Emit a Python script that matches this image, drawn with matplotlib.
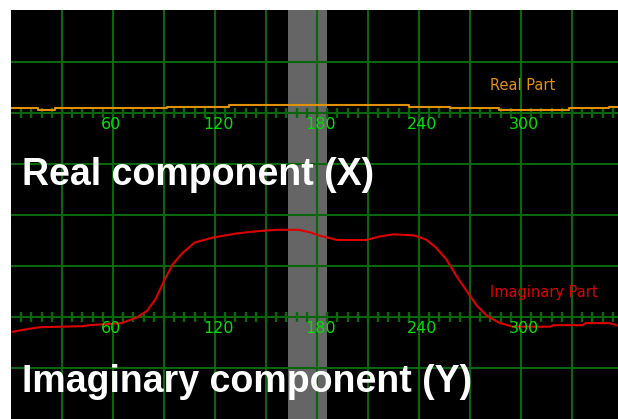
import matplotlib
matplotlib.use("Agg")
import matplotlib.pyplot as plt
import numpy as np

# phase angle (degrees) on the horizontal axis
real_x = [0, 16, 26, 92, 128, 234, 258, 287, 328, 352, 357]
real_y = [0.09, 0.065, 0.098, 0.124, 0.157, 0.124, 0.098, 0.065, 0.098, 0.124, 0.124]

imag_x = [1, 9, 17, 42, 46, 65, 74, 80, 85, 90, 95, 101, 108, 119, 133, 144, 156,
          169, 176, 182, 192, 209, 217, 225, 237, 244, 250, 256, 262, 268, 274,
          280, 287, 295, 317, 319, 336, 338, 352, 356]
imag_y = [-0.29, -0.24, -0.20, -0.18, -0.16, -0.12, -0.01, 0.12, 0.35, 0.71, 1.03,
          1.26, 1.46, 1.56, 1.64, 1.68, 1.71, 1.71, 1.66, 1.59, 1.51, 1.51, 1.58,
          1.62, 1.60, 1.52, 1.36, 1.13, 0.80, 0.51, 0.22, 0.02, -0.11, -0.19,
          -0.19, -0.16, -0.16, -0.12, -0.12, -0.16]

tick_labels = [60, 120, 180, 240, 300]
cursor = (163, 186)

real_base = 6
imag_base = 2

grid_c = "#0a660a"

fig = plt.figure(figsize=(6.18, 4.19), dpi=100, facecolor="white")
ax = fig.add_axes([11 / 618, 0, 607 / 618, 409 / 419])
ax.set_facecolor("black")
ax.set_xlim(0, 357)
ax.set_ylim(0, 409 / 51)
for s in ax.spines.values():
    s.set_visible(False)
ax.set_xticks([])
ax.set_yticks([])

# cursor band
ax.axvspan(cursor[0], cursor[1], color="#656565", zorder=1, lw=0)

# grid
for gx in np.arange(30, 357, 30):
    ax.axvline(gx, color=grid_c, lw=1.5, zorder=2)
for gy in range(1, 8):
    ax.axhline(gy, color=grid_c, lw=1.5, zorder=2)

# minor ticks on the two axis lines
minor = np.arange(6, 357, 6)
for base in (real_base, imag_base):
    ax.plot(minor, [base] * len(minor), ls="none", marker="|", ms=6.5, mew=1.7,
            color=grid_c, zorder=2)
    for t in tick_labels:
        ax.annotate(str(t), (t, base), xytext=(-8.5, -8), textcoords="offset points",
                    ha="left", va="center", color="#00e000", fontsize=11.5, zorder=4)

ax.plot(real_x, [real_base + v for v in real_y], drawstyle="steps-post",
        color="#e0900a", lw=1.5, zorder=3)
ax.plot(imag_x, [imag_base + v for v in imag_y], color="#dd0000", lw=1.5, zorder=3)

fig.text(490 / 618, 1 - 90 / 419, "Real Part", color="#e0900a", fontsize=10.5,
         va="baseline", ha="left")
fig.text(490 / 618, 1 - 297 / 419, "Imaginary Part", color="#dd0000", fontsize=10.5,
         va="baseline", ha="left")

fig.text(22 / 618, 1 - 185 / 419, "Real component (X)", color="white",
         fontsize=27, fontweight="bold", family="Liberation Sans", va="baseline")
fig.text(22 / 618, 1 - 392 / 419, "Imaginary component (Y)", color="white",
         fontsize=27, fontweight="bold", family="Liberation Sans", va="baseline")

fig.savefig("out.png", dpi=100, facecolor="white")
